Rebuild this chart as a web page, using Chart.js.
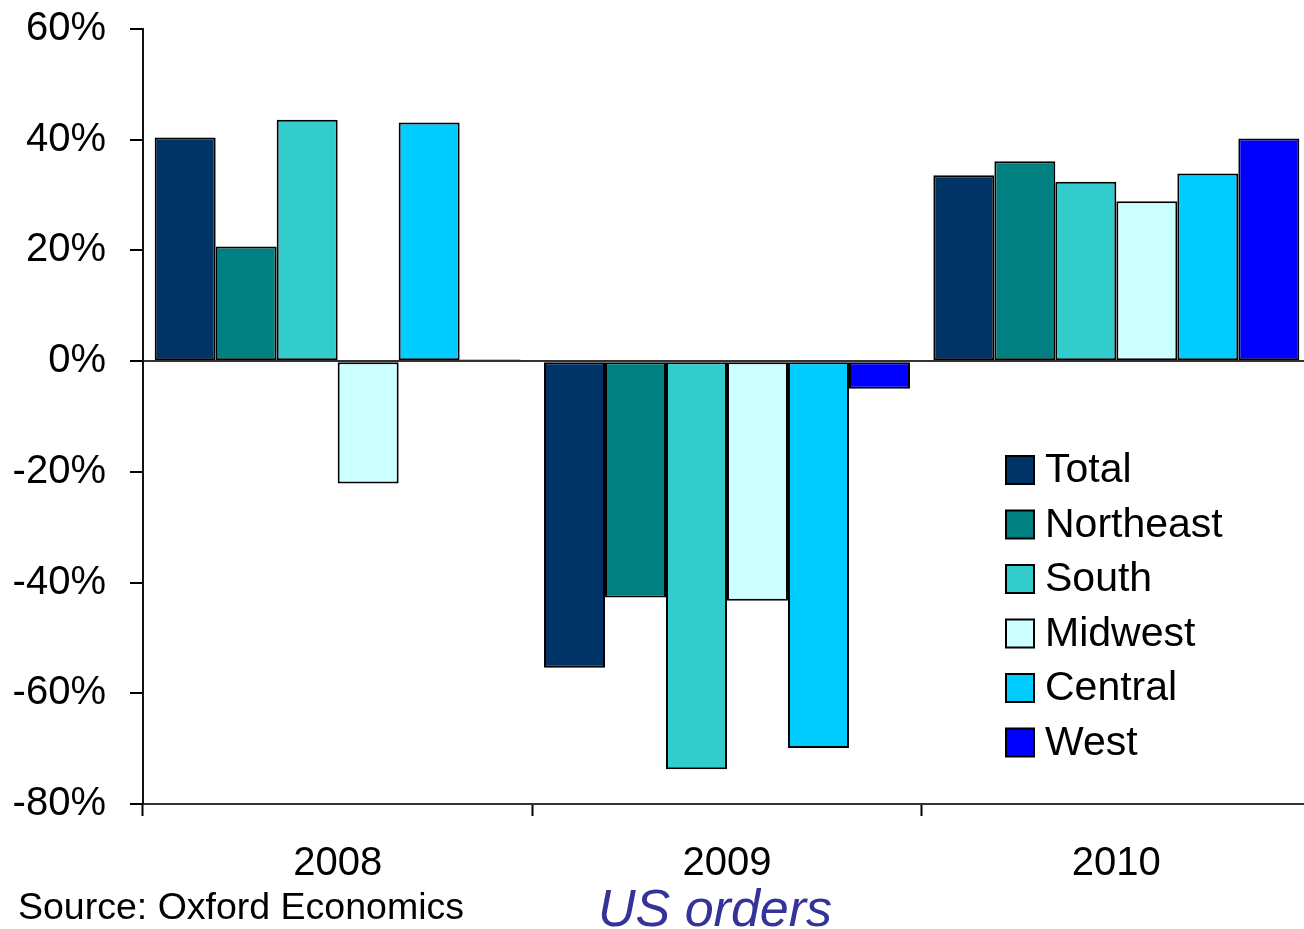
<!DOCTYPE html>
<html>
<head>
<meta charset="utf-8">
<script src="https://cdn.jsdelivr.net/npm/chart.js@4.4.0/dist/chart.umd.min.js"></script>
<style>
  html, body { margin: 0; padding: 0; background: #ffffff; overflow: hidden; }
  #wrap { width: 1312px; height: 929px; }
</style>
</head>
<body>
<div id="wrap"><canvas id="c" width="1312" height="929"></canvas></div>
<script>
// Year-on-year change in US orders by region (%)
const years = ['2008', '2009', '2010'];
const total     = [40.4, -55.4, 33.6];
const northeast = [20.7, -42.7, 36.1];
const south     = [43.6, -73.7, 32.4];
const midwest   = [-22.1, -43.3, 28.9];
const central   = [43.1, -69.9, 33.9];
const west      = [0.3, -5.0, 40.2];
const yTicks = [-80, -60, -40, -20, 0, 20, 40, 60];

const FONT = '"Liberation Sans", Arial, Helvetica, sans-serif';

function series(label, data, color) {
  return {
    label, data,
    backgroundColor: color,
    borderColor: '#000000',
    borderWidth: 2,
    borderSkipped: false,
    categoryPercentage: 0.94,
    barPercentage: 1.0
  };
}

// Legend block drawn inside the plot, plus the source note and title underneath
const overlay = {
  id: 'overlay',
  afterDraw(chart) {
    const ctx = chart.ctx;
    ctx.save();
    const boxX = 1006, box = 28, textX = 1045, y0 = 470, step = 54.5;
    ctx.font = '41px ' + FONT;
    ctx.textBaseline = 'middle';
    ctx.textAlign = 'left';
    chart.data.datasets.forEach((ds, i) => {
      const cy = y0 + i * step;
      ctx.fillStyle = ds.backgroundColor;
      ctx.fillRect(boxX, cy - box / 2, box, box);
      ctx.lineWidth = 2;
      ctx.strokeStyle = '#000000';
      ctx.strokeRect(boxX, cy - box / 2, box, box);
      ctx.fillStyle = '#000000';
      ctx.fillText(ds.label, textX, cy + 1);
    });

    ctx.textBaseline = 'alphabetic';
    ctx.font = '37.5px ' + FONT;
    ctx.fillStyle = '#000000';
    ctx.fillText('Source: Oxford Economics', 18, 919);

    ctx.font = 'italic 52px ' + FONT;
    ctx.fillStyle = '#333399';
    ctx.textAlign = 'center';
    ctx.fillText('US orders', 715, 926);
    ctx.restore();
  }
};

new Chart(document.getElementById('c'), {
  type: 'bar',
  data: {
    labels: years,
    datasets: [
      series('Total', total, '#003366'),
      series('Northeast', northeast, '#008080'),
      series('South', south, '#33CCCC'),
      series('Midwest', midwest, '#CCFFFF'),
      series('Central', central, '#00CCFF'),
      series('West', west, '#0000FF')
    ]
  },
  options: {
    responsive: false,
    animation: false,
    events: [],
    layout: { padding: { top: 29, right: 1, bottom: 0, left: 0 } },
    plugins: {
      legend: { display: false },
      tooltip: { enabled: false },
      title: { display: false }
    },
    scales: {
      x: {
        offset: true,
        grid: {
          offset: true,
          drawOnChartArea: false,
          drawTicks: true,
          tickLength: 12,
          tickColor: '#000000',
          tickWidth: 2
        },
        border: { display: true, color: '#333333', width: 2 },
        ticks: {
          color: '#000000',
          font: { family: FONT, size: 40 },
          padding: 24,
          maxRotation: 0
        },
        afterFit(scale) {
          scale.height = 125;
          scale.paddingLeft = 0;
          scale.paddingRight = 0;
        }
      },
      y: {
        min: -80,
        max: 60,
        afterBuildTicks(scale) { scale.ticks = yTicks.map(v => ({ value: v })); },
        grid: {
          drawOnChartArea: true,
          drawTicks: true,
          tickLength: 13,
          tickColor: '#000000',
          tickWidth: 2,
          lineWidth: 2,
          color: (c) => (c.tick && c.tick.value === 0) ? '#333333' : 'rgba(0,0,0,0)'
        },
        border: { display: true, color: '#111111', width: 2 },
        ticks: {
          color: '#000000',
          font: { family: FONT, size: 40 },
          padding: 24,
          callback: (v) => v + '%'
        },
        afterFit(scale) {
          scale.width = 143;
          scale.paddingTop = 0;
          scale.paddingBottom = 0;
        }
      }
    }
  },
  plugins: [overlay]
});
</script>
</body>
</html>
